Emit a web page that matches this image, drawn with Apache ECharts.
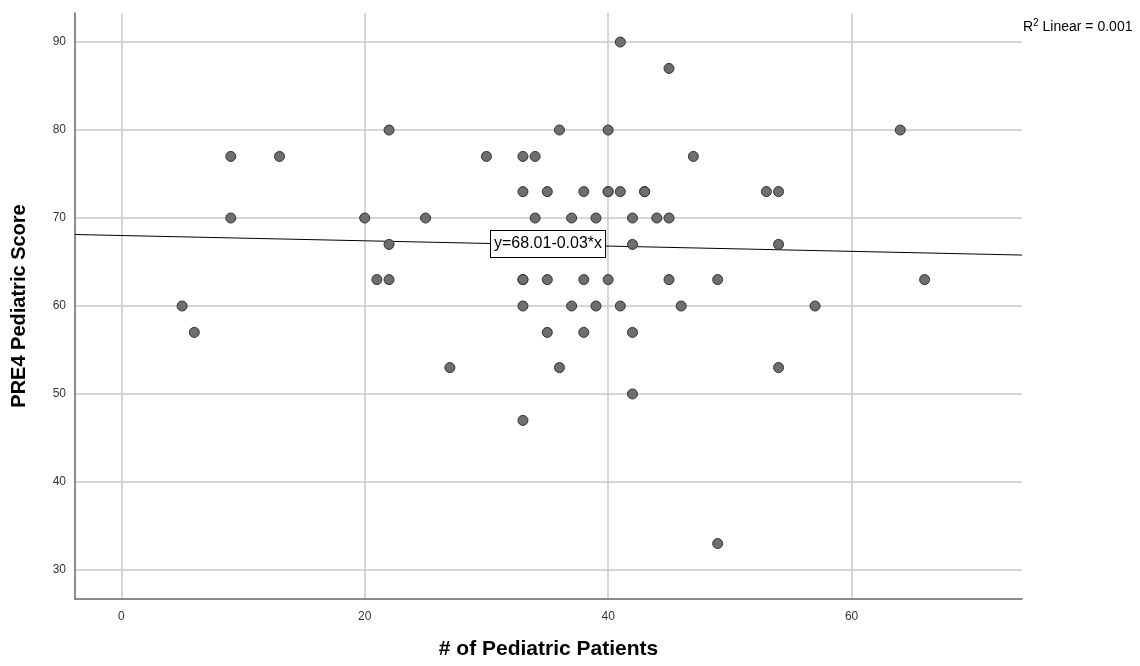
<!DOCTYPE html>
<html>
<head>
<meta charset="utf-8">
<title>PRE4 Pediatric Score</title>
<script src="https://cdn.jsdelivr.net/npm/echarts@6.0.0/dist/echarts.min.js"></script>
<style>
    html, body { margin: 0; padding: 0; background: #fff; }
    #chart { width: 1140px; height: 666px; }
</style>
</head>
<body>
<div id="chart"></div>
<script>
// # of pediatric patients vs PRE4 score
var patients = [5, 6, 9, 9, 13, 20, 21, 22, 22, 22, 25, 27, 30, 33, 33, 33, 33, 33, 33, 34, 34,
    35, 35, 35, 36, 36, 37, 37, 38, 38, 38, 39, 39, 40, 40, 40, 40, 41, 41, 41, 42, 42, 42, 42,
    43, 43, 44, 45, 45, 45, 46, 47, 49, 49, 53, 54, 54, 54, 57, 64, 66];
var scores = [60, 57, 77, 70, 77, 70, 63, 80, 67, 63, 70, 53, 77, 77, 73, 63, 63, 60, 47, 77, 70,
    73, 63, 57, 80, 53, 70, 60, 73, 63, 57, 70, 60, 80, 73, 73, 63, 90, 73, 60, 70, 67, 57, 50,
    73, 73, 70, 87, 70, 63, 60, 77, 63, 33, 73, 73, 67, 53, 60, 80, 63];

var xTicks = [0, 20, 40, 60];
var yTicks = [30, 40, 50, 60, 70, 80, 90];

// fit line y = 68.01 - 0.03*x, R2 = 0.001
var intercept = 68.01;
var slope = -0.03;
var rSquare = '0.001';

var xMin = -3.8, xMax = 74;
var yMin = 26.7, yMax = 93.3;

var initChart = function () {
    var chart = echarts.init(document.getElementById('chart'));
    var font = '"Liberation Sans", Arial, sans-serif';

    var points = [];
    for (var i = 0; i < patients.length; i++) {
        points.push([patients[i], scores[i]]);
    }
    var fitLine = [
        [xMin, intercept + slope * xMin],
        [xMax, intercept + slope * xMax]
    ];

    var option = {
        animation: false,
        backgroundColor: '#fff',
        grid: { left: 75, right: 118, top: 13, bottom: 67 },
        xAxis: {
            type: 'value',
            min: xMin,
            max: xMax,
            name: '# of Pediatric Patients',
            nameLocation: 'middle',
            nameGap: 40,
            nameTextStyle: { fontFamily: font, fontSize: 21, fontWeight: 'bold', color: '#000' },
            axisLine: { show: true, onZero: false, lineStyle: { color: '#666', width: 1.5 } },
            axisTick: { show: false, customValues: xTicks },
            axisLabel: { customValues: xTicks, fontFamily: font, fontSize: 12, color: '#333', margin: 12 },
            splitLine: { show: true, lineStyle: { color: '#c8c8c8', width: 1.5 } }
        },
        yAxis: {
            type: 'value',
            min: yMin,
            max: yMax,
            name: 'PRE4 Pediatric Score',
            nameLocation: 'middle',
            nameGap: 46,
            nameTextStyle: { fontFamily: font, fontSize: 20, fontWeight: 'bold', color: '#000' },
            axisLine: { show: true, onZero: false, lineStyle: { color: '#666', width: 1.5 } },
            axisTick: { show: false, customValues: yTicks },
            axisLabel: { customValues: yTicks, fontFamily: font, fontSize: 12, color: '#333', margin: 9 },
            splitLine: { show: true, lineStyle: { color: '#c8c8c8', width: 1.5 } }
        },
        series: [
            {
                name: 'fit',
                type: 'line',
                data: fitLine,
                symbol: 'none',
                z: 2,
                lineStyle: { color: '#000', width: 1 }
            },
            {
                name: 'patients',
                type: 'scatter',
                data: points,
                symbol: 'circle',
                symbolSize: 10,
                z: 3,
                itemStyle: { color: '#6e6e6e', borderColor: '#333', borderWidth: 1, opacity: 1 }
            }
        ],
        graphic: [
            {
                type: 'text',
                left: 490,
                top: 230,
                z: 10,
                style: {
                    text: 'y=68.01-0.03*x',
                    fontFamily: font,
                    fontSize: 16,
                    fill: '#000',
                    backgroundColor: '#fff',
                    borderColor: '#000',
                    borderWidth: 1,
                    padding: [5, 3, 5, 3]
                }
            },
            {
                type: 'text',
                left: 1023,
                top: 18,
                style: {
                    text: '{r|R}{s|2}{r| Linear = ' + rSquare + '}',
                    fontFamily: font,
                    fill: '#000',
                    rich: {
                        r: { fontFamily: font, fontSize: 14, lineHeight: 18, fill: '#000', verticalAlign: 'middle' },
                        s: { fontFamily: font, fontSize: 10, lineHeight: 10, fill: '#000', verticalAlign: 'top' }
                    }
                }
            }
        ]
    };
    chart.setOption(option);
};

initChart();
</script>
</body>
</html>
